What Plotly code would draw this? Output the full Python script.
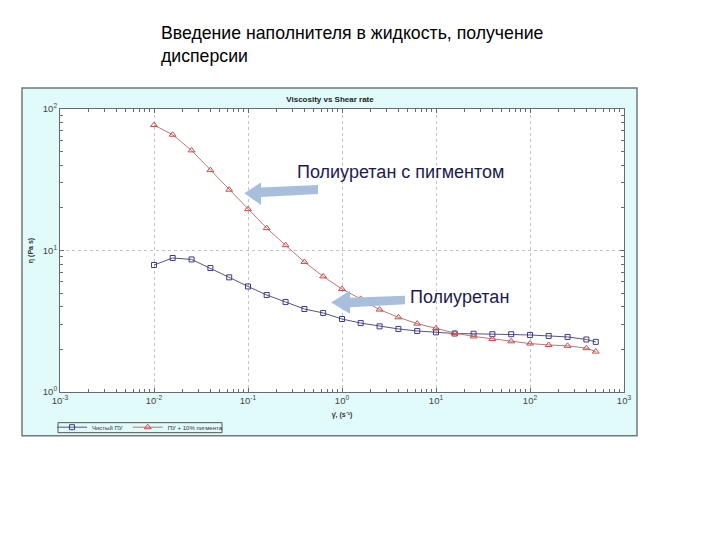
import plotly.graph_objects as go

# ---------------- data ----------------
shear_rate = [0.01, 0.0158, 0.0251, 0.0398, 0.0631, 0.1, 0.158, 0.251, 0.398, 0.631,
              1.0, 1.58, 2.51, 3.98, 6.31, 10.0, 15.8, 25.1, 39.8, 63.1,
              100.0, 158.0, 251.0, 398.0, 501.0]
visc_pu = [7.9, 8.85, 8.65, 7.52, 6.46, 5.57, 4.85, 4.33, 3.86, 3.62,
           3.28, 3.07, 2.91, 2.79, 2.70, 2.64, 2.59, 2.58, 2.56, 2.56,
           2.53, 2.49, 2.45, 2.35, 2.26]
visc_pu_pigment = [77.0, 65.8, 51.0, 37.0, 26.9, 19.6, 14.4, 10.9, 8.3, 6.56,
                   5.34, 4.55, 3.82, 3.37, 3.04, 2.82, 2.61, 2.47, 2.37, 2.28,
                   2.20, 2.15, 2.12, 2.04, 1.93]
series_names = ["Чистый ПУ", "ПУ + 10% пигмента"]

x_tickvals = [0.001, 0.01, 0.1, 1, 10, 100, 1000]
x_ticktext = ["10<sup>-3</sup>", "10<sup>-2</sup>", "10<sup>-1</sup>", "10<sup>0</sup>",
              "10<sup>1</sup>", "10<sup>2</sup>", "10<sup>3</sup>"]
y_tickvals = [1, 10, 100]
y_ticktext = ["10<sup>0</sup>", "10<sup>1</sup>", "10<sup>2</sup>"]

slide_title = "Введение наполнителя в жидкость, получение<br>дисперсии"
chart_title = "Viscosity vs Shear rate"
x_title = "γ̇, (s⁻¹)"
y_title = "η (Pa s)"
label_pigment = "Полиуретан с пигментом"
label_pu = "Полиуретан"

# ---------------- layout helpers (pixel -> paper) ----------------
W, H = 720, 540
L, R, T, B = 60, 624, 109, 392.3


def X(px):
    return (px - L) / (R - L)


def Y(py):
    return (B - py) / (B - T)


FONT = "Arial, Liberation Sans, sans-serif"

fig = go.Figure()
fig.add_trace(go.Scatter(
    x=shear_rate, y=visc_pu, name=series_names[0], mode="lines+markers",
    line=dict(color="#55557f", width=1),
    marker=dict(symbol="square-open", size=5, color="#3c3c8c", line=dict(width=1)),
))
fig.add_trace(go.Scatter(
    x=shear_rate, y=visc_pu_pigment, name=series_names[1], mode="lines+markers",
    line=dict(color="#b97878", width=1),
    marker=dict(symbol="triangle-up-open", size=6, color="#cc4a4a", line=dict(width=1)),
))

axis_common = dict(
    type="log",
    showline=True, linecolor="#6a6a6a", linewidth=1, mirror="allticks",
    ticks="inside", ticklen=4, tickcolor="#6a6a6a",
    showgrid=True, gridcolor="#c4c4c4", griddash="dot", gridwidth=1,
    zeroline=False,
    tickfont=dict(family=FONT, size=9.5, color="#444"),
    minor=dict(dtick="D1", ticks="inside", ticklen=3, tickcolor="#6a6a6a", showgrid=False),
)

fig.update_xaxes(range=[-3, 3], tickmode="array", tickvals=x_tickvals, ticktext=x_ticktext,
                 **axis_common,
                 title=dict(text=f"<b>{x_title}</b>", font=dict(family=FONT, size=7, color="#333"),
                            standoff=6))
fig.update_yaxes(range=[0, 2], tickmode="array", tickvals=y_tickvals, ticktext=y_ticktext,
                 **axis_common,
                 title=dict(text=f"<b>{y_title}</b>", font=dict(family=FONT, size=7, color="#333"),
                            standoff=8))

shapes = [
    # chart image frame (light cyan)
    dict(type="rect", xref="paper", yref="paper", layer="below",
         x0=X(22), x1=X(637), y0=Y(436), y1=Y(88),
         fillcolor="#e1fafa", line=dict(color="#6f7a7a", width=1.5)),
    # white plot area
    dict(type="rect", xref="paper", yref="paper", layer="below",
         x0=0, x1=1, y0=0, y1=1, fillcolor="white", line=dict(width=0)),
    # legend frame
    dict(type="rect", xref="paper", yref="paper", layer="above",
         x0=X(58), x1=X(222), y0=Y(433), y1=Y(423),
         fillcolor="rgba(0,0,0,0)", line=dict(color="#555", width=1)),
]


def arrow_path(pts):
    return "M " + " L ".join(f"{X(px):.4f},{Y(py):.4f}" for px, py in pts) + " Z"


arrow1 = [(244.3, 193.3), (261, 182.7), (261, 187.5), (318, 185), (318, 194),
          (261, 197), (261, 205)]
arrow2 = [(331, 302.7), (350, 291), (350, 298), (405, 296), (405, 304.5),
          (350, 307.5), (350, 314)]
for a in (arrow1, arrow2):
    shapes.append(dict(type="path", xref="paper", yref="paper", layer="above",
                       path=arrow_path(a), fillcolor="#a7bfdc", line=dict(width=0)))

annotations = [
    dict(text=slide_title, xref="paper", yref="paper", x=X(159), y=Y(21),
         xanchor="left", yanchor="top", align="left", showarrow=False,
         font=dict(family=FONT, size=17.7, color="black")),
    dict(text=label_pigment, xref="paper", yref="paper", x=X(295), y=Y(172),
         xanchor="left", yanchor="middle", showarrow=False,
         font=dict(family=FONT, size=18, color="#1b1b4f")),
    dict(text=label_pu, xref="paper", yref="paper", x=X(408), y=Y(297),
         xanchor="left", yanchor="middle", showarrow=False,
         font=dict(family=FONT, size=18, color="#1b1b4f")),
]

fig.update_layout(
    width=W, height=H,
    margin=dict(l=L, r=W - R, t=T, b=H - B, autoexpand=False),
    paper_bgcolor="white", plot_bgcolor="white",
    title=dict(text=f"<b>{chart_title}</b>", xref="paper", x=X(330), xanchor="center",
               yref="container", y=1 - 99 / H, yanchor="middle",
               font=dict(family=FONT, size=8, color="#222")),
    showlegend=True,
    legend=dict(orientation="h", x=X(52), y=Y(413), xanchor="left", yanchor="top",
                borderwidth=0, bgcolor="rgba(0,0,0,0)",
                font=dict(family=FONT, size=6, color="#333"),
                itemwidth=30, tracegroupgap=0),
    shapes=shapes, annotations=annotations,
)

fig.write_html("out.html")
